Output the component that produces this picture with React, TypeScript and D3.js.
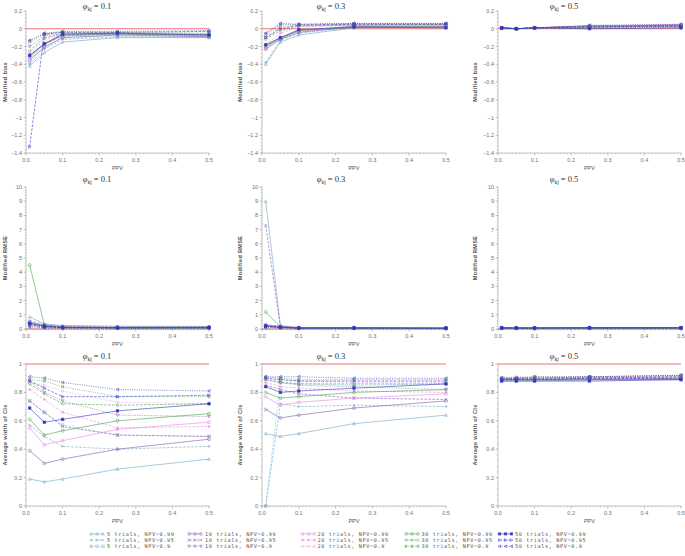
import React from "react";
import * as d3 from "d3";

// ---------- data ----------
const PPV = [0.01, 0.05, 0.1, 0.25, 0.5];
const TRIALS = [5, 10, 20, 30, 50];
const NPVS = ["0.99", "0.95", "0.9"];
const PHIS = ["0.1", "0.3", "0.5"];
const X_TICKS = [0, 0.1, 0.2, 0.3, 0.4, 0.5];
const BIAS_TICKS = [0.2, 0, -0.2, -0.4, -0.6, -0.8, -1, -1.2, -1.4];
const RMSE_TICKS = [0, 1, 2, 3, 4, 5, 6, 7, 8, 9, 10];
const WIDTH_TICKS = [0, 0.2, 0.4, 0.6, 0.8, 1];
const Y_LABELS = ["Modified bias", "Modified RMSE", "Average width of CIs"];
const REF_VALUES = [0, 0, 1];

// series order: 5/0.99, 5/0.95, 5/0.9, 10/0.99, ... 50/0.9
const BIAS_01 = [
  [-0.42, -0.27, -0.15, -0.1, -0.1],
  [-0.4, -0.23, -0.12, -0.09, -0.1],
  [-0.38, -0.2, -0.1, -0.08, -0.09],
  [-0.35, -0.21, -0.1, -0.07, -0.09],
  [-0.3, -0.17, -0.08, -0.06, -0.08],
  [-0.2, -0.08, -0.06, -0.05, -0.07],
  [-0.33, -0.18, -0.08, -0.06, -0.08],
  [-0.28, -0.12, -0.07, -0.05, -0.07],
  [-0.16, -0.07, -0.05, -0.04, -0.06],
  [-0.31, -0.17, -0.07, -0.06, -0.07],
  [-0.25, -0.1, -0.06, -0.05, -0.06],
  [-0.14, -0.06, -0.04, -0.04, -0.05],
  [-0.3, -0.17, -0.06, -0.05, -0.07],
  [-1.33, -0.06, -0.04, -0.04, -0.03],
  [-0.13, -0.05, -0.03, -0.03, -0.02],
];
const BIAS_03 = [
  [-0.4, -0.15, -0.07, 0.01, 0.02],
  [-0.38, -0.13, -0.05, 0.02, 0.03],
  [-0.22, -0.1, -0.03, 0.03, 0.04],
  [-0.23, -0.12, -0.04, 0.02, 0.02],
  [-0.2, -0.1, -0.02, 0.03, 0.03],
  [-0.1, 0.02, 0.04, 0.05, 0.05],
  [-0.21, -0.11, -0.02, 0.02, 0.02],
  [-0.18, -0.05, 0.02, 0.04, 0.04],
  [-0.08, 0.04, 0.05, 0.06, 0.06],
  [-0.19, -0.11, -0.02, 0.02, 0.02],
  [-0.12, -0.02, 0.03, 0.04, 0.05],
  [-0.06, 0.05, 0.05, 0.06, 0.06],
  [-0.18, -0.1, -0.01, 0.02, 0.01],
  [-0.1, 0.0, 0.04, 0.05, 0.05],
  [-0.05, 0.06, 0.05, 0.06, 0.06],
];
const BIAS_05 = [
  [0.01, 0.0, 0.01, 0.03, 0.04],
  [0.01, 0.0, 0.01, 0.02, 0.03],
  [0.01, 0.0, 0.01, 0.02, 0.02],
  [0.01, 0.0, 0.01, 0.03, 0.04],
  [0.01, 0.0, 0.01, 0.02, 0.03],
  [0.01, 0.0, 0.01, 0.01, 0.02],
  [0.01, 0.0, 0.01, 0.03, 0.05],
  [0.0, 0.0, 0.01, 0.02, 0.03],
  [0.0, 0.0, 0.01, 0.01, 0.01],
  [0.01, 0.0, 0.01, 0.03, 0.04],
  [0.01, 0.0, 0.01, 0.02, 0.03],
  [0.0, 0.0, 0.01, 0.01, 0.02],
  [0.01, 0.0, 0.01, 0.0, 0.01],
  [0.01, 0.0, 0.01, 0.02, 0.03],
  [0.01, 0.0, 0.01, 0.04, 0.05],
];
const RMSE_01 = [
  [0.85, 0.35, 0.25, 0.2, 0.18],
  [0.6, 0.3, 0.2, 0.15, 0.15],
  [0.45, 0.25, 0.15, 0.12, 0.12],
  [0.5, 0.25, 0.15, 0.12, 0.12],
  [0.4, 0.2, 0.12, 0.1, 0.1],
  [0.3, 0.15, 0.1, 0.08, 0.08],
  [0.45, 0.22, 0.13, 0.1, 0.1],
  [0.35, 0.18, 0.1, 0.08, 0.08],
  [0.25, 0.12, 0.08, 0.06, 0.06],
  [4.5, 0.3, 0.12, 0.09, 0.09],
  [0.3, 0.15, 0.09, 0.07, 0.07],
  [0.2, 0.1, 0.07, 0.05, 0.05],
  [0.4, 0.2, 0.12, 0.1, 0.12],
  [0.35, 0.15, 0.1, 0.08, 0.1],
  [0.15, 0.08, 0.05, 0.04, 0.05],
];
const RMSE_03 = [
  [9.0, 0.25, 0.1, 0.07, 0.06],
  [0.3, 0.2, 0.1, 0.07, 0.06],
  [0.25, 0.15, 0.08, 0.06, 0.05],
  [0.28, 0.18, 0.09, 0.06, 0.05],
  [7.3, 0.15, 0.08, 0.06, 0.05],
  [0.2, 0.12, 0.07, 0.05, 0.04],
  [0.25, 0.15, 0.08, 0.06, 0.05],
  [0.22, 0.12, 0.07, 0.05, 0.04],
  [0.18, 0.1, 0.06, 0.04, 0.04],
  [1.2, 0.14, 0.07, 0.05, 0.04],
  [0.2, 0.11, 0.06, 0.05, 0.04],
  [0.15, 0.09, 0.05, 0.04, 0.03],
  [0.22, 0.13, 0.07, 0.1, 0.08],
  [0.18, 0.1, 0.06, 0.05, 0.04],
  [0.12, 0.08, 0.05, 0.04, 0.03],
];
const RMSE_05 = [
  [0.08, 0.07, 0.07, 0.08, 0.09],
  [0.07, 0.07, 0.06, 0.07, 0.08],
  [0.06, 0.06, 0.06, 0.06, 0.07],
  [0.07, 0.07, 0.06, 0.08, 0.08],
  [0.06, 0.06, 0.06, 0.07, 0.07],
  [0.05, 0.05, 0.05, 0.06, 0.06],
  [0.07, 0.06, 0.06, 0.07, 0.08],
  [0.06, 0.05, 0.05, 0.06, 0.07],
  [0.05, 0.05, 0.05, 0.05, 0.06],
  [0.06, 0.06, 0.06, 0.07, 0.07],
  [0.05, 0.05, 0.05, 0.06, 0.06],
  [0.04, 0.04, 0.04, 0.05, 0.05],
  [0.1, 0.09, 0.09, 0.1, 0.1],
  [0.05, 0.05, 0.05, 0.06, 0.06],
  [0.04, 0.04, 0.04, 0.05, 0.05],
];
const WIDTH_01 = [
  [0.19, 0.17, 0.19, 0.26, 0.33],
  [0.57, 0.49, 0.42, 0.4, 0.42],
  [0.74, 0.66, 0.57, 0.5, 0.49],
  [0.39, 0.3, 0.33, 0.4, 0.47],
  [0.74, 0.66, 0.56, 0.5, 0.49],
  [0.88, 0.8, 0.74, 0.64, 0.63],
  [0.55, 0.43, 0.46, 0.54, 0.59],
  [0.82, 0.75, 0.66, 0.55, 0.56],
  [0.87, 0.85, 0.81, 0.73, 0.72],
  [0.61, 0.5, 0.53, 0.6, 0.65],
  [0.86, 0.79, 0.72, 0.71, 0.72],
  [0.89, 0.88, 0.84, 0.77, 0.77],
  [0.69, 0.59, 0.61, 0.67, 0.72],
  [0.88, 0.83, 0.77, 0.77, 0.78],
  [0.91, 0.9, 0.87, 0.82, 0.81],
];
const WIDTH_03 = [
  [0.51, 0.49, 0.51, 0.58, 0.64],
  [0.0, 0.72, 0.7, 0.71, 0.7],
  [0.0, 0.87, 0.86, 0.85, 0.86],
  [0.68, 0.62, 0.64, 0.69, 0.74],
  [0.85, 0.82, 0.79, 0.76, 0.75],
  [0.89, 0.87, 0.85, 0.84, 0.82],
  [0.77, 0.71, 0.73, 0.76, 0.79],
  [0.87, 0.84, 0.83, 0.81, 0.8],
  [0.9, 0.89, 0.88, 0.87, 0.87],
  [0.8, 0.76, 0.77, 0.8, 0.82],
  [0.89, 0.87, 0.86, 0.86, 0.86],
  [0.91, 0.9, 0.89, 0.89, 0.89],
  [0.84, 0.8, 0.81, 0.83, 0.86],
  [0.9, 0.89, 0.88, 0.88, 0.88],
  [0.91, 0.91, 0.91, 0.9, 0.9],
];
const WIDTH_05 = [
  [0.88, 0.88, 0.88, 0.89, 0.89],
  [0.89, 0.89, 0.89, 0.9, 0.9],
  [0.9, 0.9, 0.9, 0.91, 0.91],
  [0.89, 0.89, 0.89, 0.89, 0.9],
  [0.9, 0.9, 0.9, 0.9, 0.91],
  [0.9, 0.9, 0.91, 0.91, 0.92],
  [0.89, 0.89, 0.89, 0.9, 0.9],
  [0.9, 0.9, 0.9, 0.91, 0.91],
  [0.9, 0.91, 0.91, 0.91, 0.92],
  [0.89, 0.89, 0.89, 0.89, 0.89],
  [0.89, 0.9, 0.9, 0.9, 0.91],
  [0.9, 0.9, 0.91, 0.91, 0.92],
  [0.88, 0.88, 0.88, 0.88, 0.89],
  [0.89, 0.89, 0.89, 0.9, 0.9],
  [0.9, 0.9, 0.9, 0.91, 0.92],
];

const PANEL_DATA = [
  [BIAS_01, BIAS_03, BIAS_05],
  [RMSE_01, RMSE_03, RMSE_05],
  [WIDTH_01, WIDTH_03, WIDTH_05],
];

// ---------- styles / layout ----------
const COLORS = ["#6aa6c8", "#8058ad", "#e488e4", "#48a048", "#3434c4"];
const DASHES = [null, "2.6,1.4", "1,1.3"];
const MARKERS = [
  ["triangle", "plus", "square"],
  ["circle", "x", "triDown"],
  ["square", "asterisk", "diamond"],
  ["circle", "diamond", "star"],
  ["squareFilled", "triRight", "triLeft"],
];
const COLS: [number, number][] = [[26, 209], [262, 446], [498, 681]];
const ROWS: [number, number][] = [[11, 153], [187, 329], [364, 506]];
const DOMAINS: [number, number][] = [[-1.4, 0.2], [0, 10], [0, 1]];
const Y_TICKS = [BIAS_TICKS, RMSE_TICKS, WIDTH_TICKS];
const Y_MAJOR = [0.2, 1, 0.2];
const TITLE_X = [97, 331, 564];
const YLABEL_X = [7, 242, 477];

function markerPath(type: string, x: number, y: number, s: number): string {
  switch (type) {
    case "triangle":
      return `M${x},${y - s}L${x + s},${y + s * 0.8}L${x - s},${y + s * 0.8}Z`;
    case "triDown":
      return `M${x},${y + s}L${x + s},${y - s * 0.8}L${x - s},${y - s * 0.8}Z`;
    case "triLeft":
      return `M${x - s},${y}L${x + s * 0.8},${y - s}L${x + s * 0.8},${y + s}Z`;
    case "triRight":
      return `M${x + s},${y}L${x - s * 0.8},${y - s}L${x - s * 0.8},${y + s}Z`;
    case "plus":
      return `M${x - s},${y}H${x + s}M${x},${y - s}V${y + s}`;
    case "x":
      return `M${x - s},${y - s}L${x + s},${y + s}M${x - s},${y + s}L${x + s},${y - s}`;
    case "asterisk":
      return `M${x - s},${y}H${x + s}M${x},${y - s}V${y + s}M${x - s * 0.7},${y - s * 0.7}L${x + s * 0.7},${y + s * 0.7}M${x - s * 0.7},${y + s * 0.7}L${x + s * 0.7},${y - s * 0.7}`;
    case "square":
    case "squareFilled":
      return `M${x - s * 0.85},${y - s * 0.85}h${s * 1.7}v${s * 1.7}h${-s * 1.7}Z`;
    case "diamond":
      return `M${x},${y - s}L${x + s},${y}L${x},${y + s}L${x - s},${y}Z`;
    case "circle":
      return `M${x + s},${y}A${s},${s} 0 1,1 ${x - s},${y}A${s},${s} 0 1,1 ${x + s},${y}Z`;
    case "star": {
      const pts: string[] = [];
      for (let i = 0; i < 10; i++) {
        const r = i % 2 === 0 ? s * 1.1 : s * 0.45;
        const a = (Math.PI / 5) * i - Math.PI / 2;
        pts.push(`${x + r * Math.cos(a)},${y + r * Math.sin(a)}`);
      }
      return "M" + pts.join("L") + "Z";
    }
    default:
      return "";
  }
}

function Marker({ type, x, y, color, s = 1.5 }: { type: string; x: number; y: number; color: string; s?: number }) {
  return (
    <path
      d={markerPath(type, x, y, s)}
      fill={type === "squareFilled" ? color : "none"}
      stroke={color}
      strokeWidth={0.5}
    />
  );
}

const fmtY = (row: number, v: number) => {
  if (row === 1) return String(v);
  const s = Math.abs(v) < 1e-9 ? "0" : String(+v.toFixed(1));
  return s.replace("-", "\u2212");
};

function Panel({ row, col }: { row: number; col: number }) {
  const [x0, x1] = COLS[col];
  const [yTop, yBot] = ROWS[row];
  const x = d3.scaleLinear().domain([0, 0.5]).range([x0, x1]);
  const y = d3.scaleLinear().domain(DOMAINS[row]).range([yBot, yTop]);
  const line = d3
    .line<number>()
    .x((_, i) => x(PPV[i]))
    .y((d) => y(d));
  const data = PANEL_DATA[row][col];
  const [d0, d1] = DOMAINS[row];
  const yMinorStep = Y_MAJOR[row] / 5;
  const yMinor = d3.range(0, Math.round((d1 - d0) / yMinorStep) + 1).map((i) => d0 + i * yMinorStep);
  const xMinor = d3.range(0, 51).map((i) => i * 0.01);
  const axisColor = "#a0a0a0";
  const tickFont = { fontFamily: "Liberation Sans, Arial, sans-serif", fontSize: 5.5, fill: "#707070" };
  return (
    <g>
      <text
        x={TITLE_X[col]}
        y={yTop - (row === 0 ? 2.5 : 5)}
        textAnchor="middle"
        style={{ fontFamily: "Liberation Serif, Times New Roman, serif", fontSize: 8.5, fill: "#333" }}
      >
        <tspan fontStyle="italic">φ</tspan>
        <tspan dy={2} fontSize={5.5}>kj</tspan>
        <tspan dy={-2}> = {PHIS[col]}</tspan>
      </text>
      <text
        transform={`translate(${YLABEL_X[col]},${(yTop + yBot) / 2}) rotate(-90)`}
        textAnchor="middle"
        style={{ fontFamily: "Liberation Sans, Arial, sans-serif", fontSize: 5.6, fontWeight: 700, fill: "#555", letterSpacing: 0.3 }}
      >
        {Y_LABELS[row]}
      </text>
      <line x1={x0} x2={x0} y1={yTop} y2={yBot} stroke={axisColor} strokeWidth={0.6} />
      <line x1={x0} x2={x1} y1={yBot} y2={yBot} stroke={axisColor} strokeWidth={0.6} />
      {yMinor.map((v, i) => (
        <line key={"ym" + i} x1={x0 - 1.3} x2={x0} y1={y(v)} y2={y(v)} stroke={axisColor} strokeWidth={0.5} />
      ))}
      {xMinor.map((v, i) => (
        <line key={"xm" + i} x1={x(v)} x2={x(v)} y1={yBot} y2={yBot + 1.3} stroke={axisColor} strokeWidth={0.5} />
      ))}
      {Y_TICKS[row].map((v) => (
        <g key={"yt" + v}>
          <line x1={x0 - 2.5} x2={x0} y1={y(v)} y2={y(v)} stroke={axisColor} strokeWidth={0.6} />
          <text x={x0 - 4} y={y(v) + 2} textAnchor="end" style={tickFont}>
            {fmtY(row, v)}
          </text>
        </g>
      ))}
      {X_TICKS.map((v) => (
        <g key={"xt" + v}>
          <line x1={x(v)} x2={x(v)} y1={yBot} y2={yBot + 2.5} stroke={axisColor} strokeWidth={0.6} />
          <text x={x(v)} y={yBot + 9} textAnchor="middle" style={tickFont}>
            {v.toFixed(1)}
          </text>
        </g>
      ))}
      <text
        x={(x0 + x1) / 2}
        y={yBot + 17}
        textAnchor="middle"
        style={{ fontFamily: "Liberation Sans, Arial, sans-serif", fontSize: 5.6, fill: "#555" }}
      >
        PPV
      </text>
      <line x1={x0} x2={x1} y1={y(REF_VALUES[row])} y2={y(REF_VALUES[row])} stroke="#f07070" strokeWidth={1} />
      {data.map((vals, si) => {
        const t = Math.floor(si / 3);
        const n = si % 3;
        const color = COLORS[t];
        return (
          <g key={si}>
            <path
              d={line(vals) || ""}
              fill="none"
              stroke={color}
              strokeWidth={0.6}
              strokeDasharray={DASHES[n] || undefined}
            />
            {vals.map((v, i) => (
              <Marker key={i} type={MARKERS[t][n]} x={x(PPV[i])} y={y(v)} color={color} />
            ))}
          </g>
        );
      })}
    </g>
  );
}

const LEGEND_MARK_X = [91, 189, 302.5, 406, 499.5];
const LEGEND_TEXT_X = [107, 205, 317.5, 421.5, 515];
const LEGEND_Y = [535.6, 541.8, 548];

function Legend() {
  return (
    <g>
      {TRIALS.map((t, ti) =>
        NPVS.map((npv, ni) => {
          const cy = LEGEND_Y[ni] - 1.7;
          const mx = LEGEND_MARK_X[ti];
          const color = COLORS[ti];
          return (
            <g key={ti + "-" + ni}>
              <line
                x1={mx}
                x2={mx + 12}
                y1={cy}
                y2={cy}
                stroke={color}
                strokeWidth={0.6}
                strokeDasharray={DASHES[ni] || undefined}
              />
              {[0, 6, 12].map((dx) => (
                <Marker key={dx} type={MARKERS[ti][ni]} x={mx + dx} y={cy} color={color} s={1.4} />
              ))}
              <text
                x={LEGEND_TEXT_X[ti]}
                y={LEGEND_Y[ni]}
                style={{ fontFamily: "DejaVu Sans Mono, monospace", fontSize: 5.2, fill: "#555", letterSpacing: 0.62 }}
              >
                {`${t} trials, NPV=${npv}`}
              </text>
            </g>
          );
        })
      )}
    </g>
  );
}

export default function App() {
  return (
    <svg
      width={685}
      height={556}
      viewBox="0 0 685 556"
      style={{ position: "absolute", left: 0, top: 0, background: "#fff" }}
    >
      <rect width={685} height={556} fill="#fff" />
      {[0, 1, 2].map((r) => [0, 1, 2].map((c) => <Panel key={r + "-" + c} row={r} col={c} />))}
      <Legend />
    </svg>
  );
}
